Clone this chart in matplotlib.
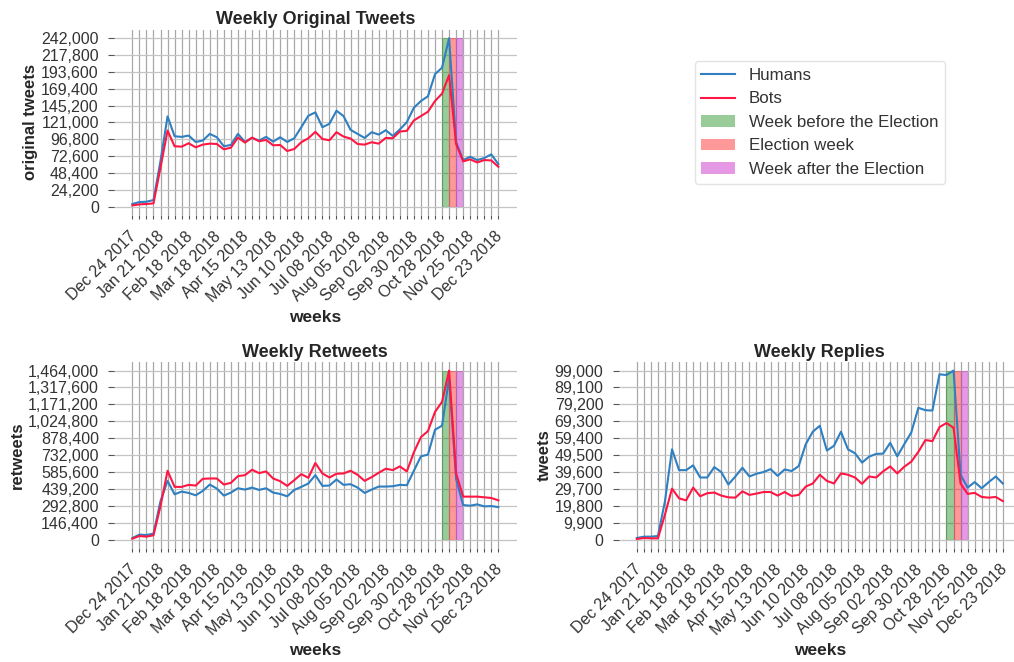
import numpy as np
import pandas as pd
import matplotlib
matplotlib.use('Agg')
import matplotlib.pyplot as plt
from matplotlib.patches import Patch
from matplotlib.lines import Line2D
from matplotlib.transforms import ScaledTranslation

plt.rcParams['font.family'] = ['Liberation Sans', 'DejaVu Sans']

# weekly dates (53 weeks)
weeks = pd.date_range('2017-12-24', periods=53, freq='7D')
week_labels = [d.strftime('%b %d %Y') for d in weeks]

orig_humans = [3900, 6700, 7200, 9600, 66000, 129700, 101200, 100300, 102200, 93000,
               95000, 104600, 99800, 86800, 88700, 104600, 93000, 98800, 95000, 100300,
               93500, 99800, 93000, 98300, 114200, 130600, 135500, 114200, 119100, 137900,
               130200, 110400, 104600, 98800, 107000, 103600, 109900, 101700, 110900, 121500,
               142200, 151800, 158600, 190400, 199600, 242000, 92600, 67000, 71800, 67000,
               69900, 75200, 61200]
orig_bots = [1900, 3400, 3900, 4800, 56400, 109400, 86800, 86300, 91100, 85300,
             89200, 90600, 90100, 82400, 84800, 99300, 92100, 99300, 94000, 95900,
             88200, 88700, 80000, 82900, 92600, 98300, 107500, 97300, 95400, 107000,
             100800, 97900, 90100, 89200, 92600, 90600, 98800, 98300, 108000, 109000,
             123900, 130200, 136400, 151800, 162400, 188900, 90100, 65100, 68000, 63600,
             67000, 66500, 57400]

rt_humans = [14500, 43700, 40700, 52400, 334700, 509300, 392900, 416200, 404600, 384200,
             422000, 477300, 442400, 381300, 407500, 445300, 433700, 451100, 430800, 445300,
             407500, 395800, 375500, 430800, 457000, 486100, 558800, 465700, 468600, 521000,
             474400, 480200, 451100, 404600, 433700, 459900, 459900, 462800, 474400, 471500,
             596700, 721800, 736400, 951800, 986700, 1397000, 523900, 299800, 294000, 305600,
             288100, 291100, 282300]
rt_bots = [8700, 32000, 26200, 37800, 291100, 596700, 457000, 457000, 474400, 468600,
           526800, 529700, 529700, 477300, 491900, 550100, 558800, 605400, 576300, 590900,
           529700, 506400, 465700, 515200, 567600, 535500, 663600, 573400, 538400, 570500,
           573400, 596700, 561700, 509300, 541400, 579200, 614100, 602500, 634500, 590900,
           756800, 887700, 940100, 1106000, 1193300, 1464000, 573400, 372600, 372600, 372600,
           366800, 360900, 340500]

rep_humans = [980, 1770, 1770, 2160, 22600, 52900, 40700, 40700, 43500, 36400,
              36400, 42500, 39600, 32300, 37000, 42100, 37000, 38600, 39600, 41300,
              37400, 41100, 40200, 43100, 55900, 63200, 66700, 52200, 54900, 63200,
              52900, 50600, 45100, 48600, 50200, 50400, 56700, 48800, 55900, 62800,
              77200, 75800, 75600, 96800, 96400, 99000, 38000, 30500, 33700, 30100,
              33700, 37000, 32900]
rep_bots = [390, 980, 790, 790, 14800, 29900, 24200, 23000, 30500, 25400,
            27200, 27600, 25800, 24800, 24600, 28300, 26200, 27000, 27900, 27900,
            25800, 27900, 25600, 26200, 31100, 32900, 38000, 34400, 32900, 38800,
            38000, 36400, 32700, 37000, 36400, 40000, 42900, 38800, 42700, 45700,
            51400, 58300, 57700, 65900, 68300, 65500, 32900, 26800, 27400, 25000,
            24600, 25000, 22600]

election_idx = 45  # week of Nov 04 2018

c_hum = '#2f7fc1'
c_bot = '#ff1744'

fig = plt.figure(figsize=(10.14, 6.62), dpi=100)
ax1 = fig.add_axes([0.1125, 0.675, 0.397, 0.28])
ax2 = fig.add_axes([0.1125, 0.172, 0.397, 0.281])
ax3 = fig.add_axes([0.610, 0.172, 0.397, 0.281])
axl = fig.add_axes([0.610, 0.675, 0.397, 0.28])
axl.axis('off')

shift = ScaledTranslation(0.07, -0.04, fig.dpi_scale_trans)


def draw(ax, hum, bot, title, ylabel):
    x = np.arange(len(weeks))
    top = max(max(hum), max(bot))
    ax.plot(x, hum, color=c_hum, lw=1.5, zorder=3)
    ax.plot(x, bot, color=c_bot, lw=1.5, zorder=3)
    e = election_idx
    ax.fill_between([e - 1, e], 0, top, color='green', alpha=0.4, lw=0, zorder=2)
    ax.fill_between([e, e + 1], 0, top, color='red', alpha=0.4, lw=0, zorder=2)
    ax.fill_between([e + 1, e + 2], 0, top, color='m', alpha=0.4, lw=0, zorder=2)
    ax.set_xticks(x)
    ax.set_xticklabels([l if i % 4 == 0 else '' for i, l in enumerate(week_labels)],
                       rotation=45, ha='right', fontsize=11.5, color='#333333')
    yt = np.linspace(0, top, 11)
    ax.set_yticks(yt)
    ax.set_yticklabels(['{:,.0f}'.format(v) for v in yt], fontsize=11.5, color='#333333')
    ax.margins(x=0.05, y=0.05)
    ax.grid(axis='x', color='#a8a8a8', lw=0.9, zorder=0)
    ax.grid(axis='y', color='#c4c4c4', lw=0.9, zorder=0)
    ax.set_axisbelow(True)
    for s in ax.spines.values():
        s.set_visible(False)
    ax.tick_params(axis='x', length=3, width=0.8, color='#555555', pad=4)
    ax.tick_params(axis='y', length=4, width=0.8, color='#555555', pad=7)
    # nudge rotated date labels (after tick_params, which resets transforms)
    for lab in ax.get_xticklabels():
        lab.set_transform(lab.get_transform() + shift)
    ax.set_title(title, fontsize=13, fontweight='bold', color='#262626', pad=4)
    ax.set_xlabel('weeks', fontsize=12.5, fontweight='bold', color='#262626')
    ax.set_ylabel(ylabel, fontsize=12, fontweight='bold', color='#262626', labelpad=2)


draw(ax1, orig_humans, orig_bots, 'Weekly Original Tweets', 'original tweets')
draw(ax2, rt_humans, rt_bots, 'Weekly Retweets', 'retweets')
draw(ax3, rep_humans, rep_bots, 'Weekly Replies', 'tweets')

handles = [Line2D([], [], color=c_hum, lw=1.5),
           Line2D([], [], color=c_bot, lw=1.5),
           Patch(facecolor='green', alpha=0.4),
           Patch(facecolor='red', alpha=0.4),
           Patch(facecolor='m', alpha=0.4)]
labels = ['Humans', 'Bots', 'Week before the Election', 'Election week',
          'Week after the Election']
leg = axl.legend(handles, labels, loc='center', bbox_to_anchor=(0.5, 0.5),
                 fontsize=12.2, frameon=True, edgecolor='#dddddd', fancybox=True,
                 labelcolor='#333333')

fig.savefig('out.png', dpi=100)
